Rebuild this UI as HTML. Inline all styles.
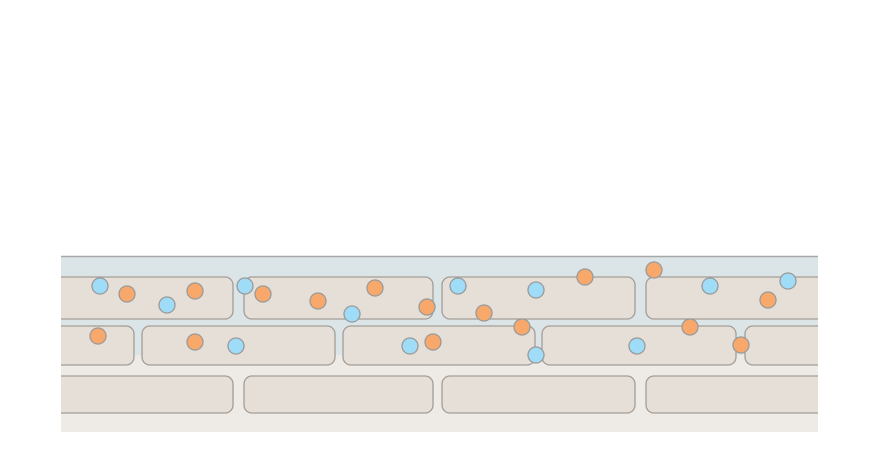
<!DOCTYPE html>
<html><head><style>body{margin:0;background:#fff}svg{display:block}</style></head>
<body>
<svg width="879" height="473" viewBox="0 0 879 473" xmlns="http://www.w3.org/2000/svg">
<defs><clipPath id="c"><rect x="61" y="255" width="757" height="178"/></clipPath></defs>
<rect x="61" y="256" width="757" height="176" fill="#eeebe6"/>
<rect x="61" y="256" width="757" height="99" fill="#dbe5e7"/>
<line x1="61" y1="256.5" x2="818" y2="256.5" stroke="#a8a8a8" stroke-width="1.5"/>
<g clip-path="url(#c)" fill="#e6dfd7" stroke="#a39d97" stroke-width="1.3">
<rect x="40" y="277" width="193" height="42" rx="8"/>
<rect x="244" y="277" width="189" height="42" rx="8"/>
<rect x="442" y="277" width="193" height="42" rx="8"/>
<rect x="646" y="277" width="200" height="42" rx="8"/>
<rect x="40" y="326" width="94" height="39" rx="8"/>
<rect x="142" y="326" width="193" height="39" rx="8"/>
<rect x="343" y="326" width="192" height="39" rx="8"/>
<rect x="542" y="326" width="194" height="39" rx="8"/>
<rect x="745" y="326" width="100" height="39" rx="8"/>
<rect x="40" y="376" width="193" height="37" rx="8"/>
<rect x="244" y="376" width="189" height="37" rx="8"/>
<rect x="442" y="376" width="193" height="37" rx="8"/>
<rect x="646" y="376" width="200" height="37" rx="8"/>
</g>
<g fill="#9edcf7" stroke="#9a9a9a" stroke-width="1.3">
<circle cx="100" cy="286" r="8"/><circle cx="167" cy="305" r="8"/><circle cx="245" cy="286" r="8"/><circle cx="352" cy="314" r="8"/>
<circle cx="458" cy="286" r="8"/><circle cx="536" cy="290" r="8"/><circle cx="710" cy="286" r="8"/><circle cx="788" cy="281" r="8"/>
<circle cx="236" cy="346" r="8"/><circle cx="410" cy="346" r="8"/><circle cx="536" cy="355" r="8"/><circle cx="637" cy="346" r="8"/>
</g>
<g fill="#f8a86b" stroke="#9a9a9a" stroke-width="1.3">
<circle cx="127" cy="294" r="8"/><circle cx="195" cy="291" r="8"/><circle cx="263" cy="294" r="8"/><circle cx="318" cy="301" r="8"/>
<circle cx="375" cy="288" r="8"/><circle cx="427" cy="307" r="8"/><circle cx="484" cy="313" r="8"/><circle cx="585" cy="277" r="8"/>
<circle cx="654" cy="270" r="8"/><circle cx="768" cy="300" r="8"/><circle cx="98" cy="336" r="8"/><circle cx="195" cy="342" r="8"/>
<circle cx="433" cy="342" r="8"/><circle cx="522" cy="327" r="8"/><circle cx="690" cy="327" r="8"/><circle cx="741" cy="345" r="8"/>
</g>
</svg>
</body></html>
